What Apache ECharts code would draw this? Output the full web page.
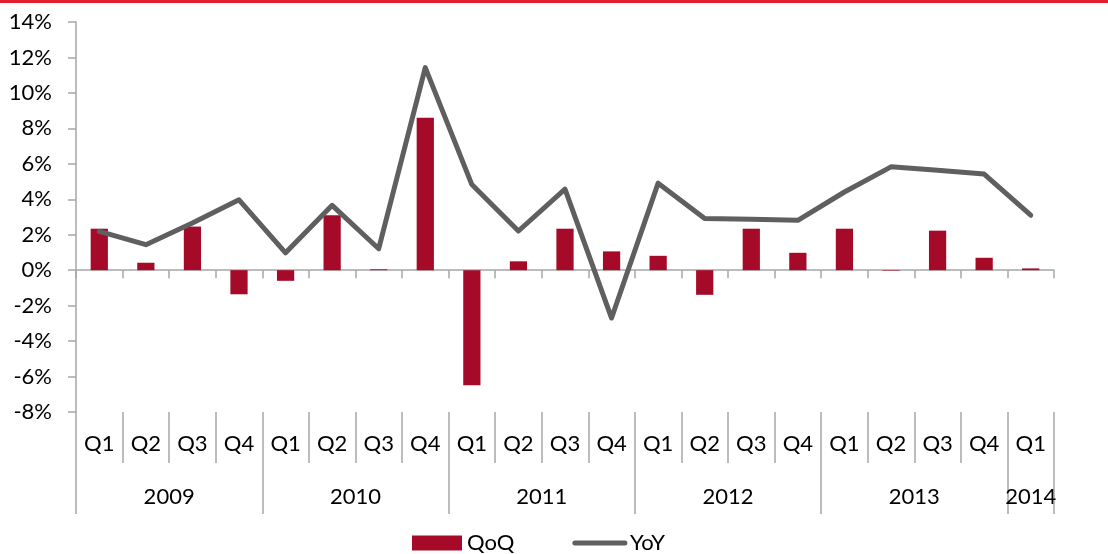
<!DOCTYPE html>
<html>
<head>
<meta charset="utf-8">
<script src="https://cdn.jsdelivr.net/npm/echarts@6/dist/echarts.min.js"></script>
<style>
  html, body { margin: 0; padding: 0; background: #fff; }
  #chart { width: 1108px; height: 554px; }
</style>
</head>
<body>
<div id="chart"></div>
<script>
// 数据
const years = ['2009', '2010', '2011', '2012', '2013', '2014'];
const quartersPerYear = [4, 4, 4, 4, 4, 1];
const quarterNames = ['Q1', 'Q2', 'Q3', 'Q4'];
const qoq = [2.34, 0.42, 2.46, -1.36, -0.6, 3.1, 0.05, 8.6, -6.49, 0.5, 2.34, 1.06, 0.81, -1.39, 2.34, 0.98, 2.34, -0.03, 2.23, 0.7, 0.1];
const yoy = [2.19, 1.44, 2.66, 3.97, 0.98, 3.66, 1.21, 11.43, 4.83, 2.21, 4.57, -2.7, 4.91, 2.91, 2.87, 2.81, 4.41, 5.83, 5.64, 5.42, 3.1];

const categories = [];
const yearBounds = [0];
const yearCenters = [];
quartersPerYear.forEach((n, i) => {
  for (let q = 0; q < n; q++) categories.push(years[i] + ' ' + quarterNames[q]);
  const start = yearBounds[yearBounds.length - 1];
  yearCenters.push(start + n / 2);
  yearBounds.push(start + n);
});

const axisGray = '#A6A6A6';
const lineGray = '#5F5F5F';
const fontFamily = 'Lato, "Open Sans", sans-serif';

const chart = echarts.init(document.getElementById('chart'));
chart.setOption({
  animation: false,
  textStyle: { fontFamily: fontFamily },
  graphic: [{
    type: 'rect',
    left: 0,
    top: 0,
    shape: { width: 1108, height: 3 },
    style: { fill: '#E31F2F' },
  }],
  grid: {
    top: 22,
    left: 76,
    right: 54,
    bottom: 142,
  },
  legend: {
    bottom: -5,
    left: 407,
    itemWidth: 50,
    itemHeight: 15,
    itemGap: 58,
    textStyle: { fontSize: 22, color: '#000', fontFamily: fontFamily },
    data: [
      { name: 'QoQ', icon: 'rect' },
      {
        name: 'YoY',
        itemStyle: { opacity: 0 },
        lineStyle: { width: 5, color: lineGray, cap: 'round' },
      },
    ],
  },
  xAxis: [
    {
      type: 'category',
      data: categories,
      axisLine: { onZero: true, lineStyle: { color: axisGray, width: 1.5 } },
      axisTick: { show: true, interval: 0, length: 8, lineStyle: { color: axisGray, width: 1.5 } },
      axisLabel: { show: false },
      splitLine: { show: false },
    },
    {
      type: 'category',
      data: categories,
      position: 'bottom',
      axisLine: { show: false, onZero: false },
      axisTick: { show: true, interval: 0, length: 51, lineStyle: { color: axisGray, width: 1.5 } },
      axisLabel: {
        interval: 0,
        margin: 21,
        fontSize: 22,
        color: '#000',
        formatter: (v) => v.split(' ')[1],
      },
      splitLine: { show: false },
    },
    {
      type: 'value',
      min: 0,
      max: categories.length,
      position: 'bottom',
      offset: 51,
      axisLine: { show: false, onZero: false },
      axisTick: { show: true, length: 51, customValues: yearBounds, lineStyle: { color: axisGray, width: 1.5 } },
      axisLabel: {
        margin: 23,
        fontSize: 22,
        color: '#000',
        customValues: yearCenters,
        formatter: (v) => years[yearCenters.indexOf(v)] || '',
      },
      splitLine: { show: false },
    },
  ],
  yAxis: {
    type: 'value',
    min: -8,
    max: 14,
    interval: 2,
    axisLine: { show: true, lineStyle: { color: axisGray, width: 1.5 } },
    axisTick: { show: true, length: 8, lineStyle: { color: axisGray, width: 1.5 } },
    axisLabel: {
      margin: 24,
      fontSize: 22,
      color: '#000',
      formatter: '{value}%',
    },
    splitLine: { show: false },
  },
  series: [
    {
      name: 'QoQ',
      type: 'bar',
      data: qoq,
      barWidth: '37%',
      itemStyle: { color: '#A50A28' },
      xAxisIndex: 0,
    },
    {
      name: 'YoY',
      type: 'line',
      data: yoy,
      symbol: 'none',
      xAxisIndex: 0,
      z: 5,
      itemStyle: { color: lineGray },
      lineStyle: { color: lineGray, width: 5, cap: 'round', join: 'round' },
    },
  ],
});
</script>
</body>
</html>
